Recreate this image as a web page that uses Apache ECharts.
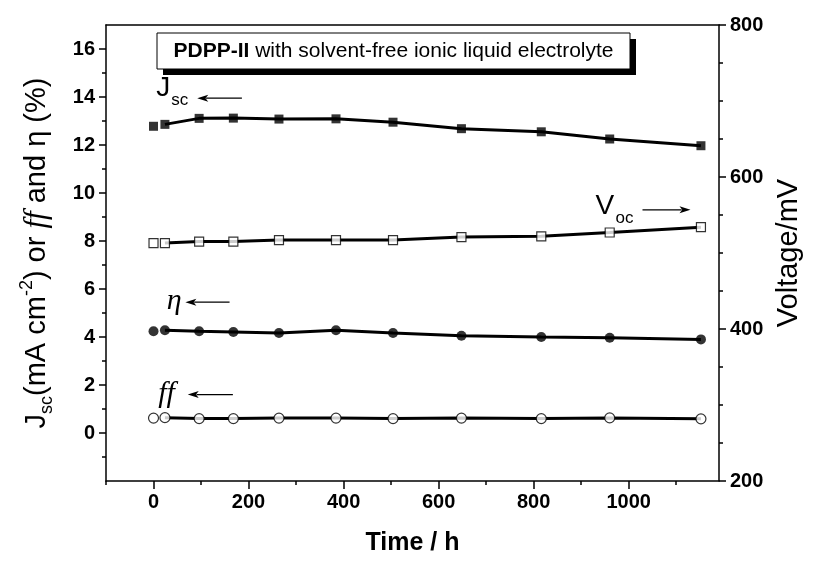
<!DOCTYPE html>
<html>
<head>
<meta charset="utf-8">
<script src="https://cdn.jsdelivr.net/npm/echarts@6/dist/echarts.min.js"></script>
<style>
html,body{margin:0;padding:0;background:#fff;}
#chart{width:815px;height:561px;}
</style>
</head>
<body>
<div id="chart"></div>
<script>
// ---- data ----
const timeH = [0, 24, 96, 168, 264, 384, 504, 648, 816, 960, 1152];
const jscValues = [12.78, 12.86, 13.11, 13.12, 13.08, 13.09, 12.95, 12.68, 12.55, 12.25, 11.97];
const vocValues = [513, 513, 515, 515, 517, 517, 517, 521, 522, 527, 534];   // mV, right axis
const etaValues = [4.24, 4.28, 4.24, 4.21, 4.17, 4.28, 4.17, 4.05, 4.00, 3.97, 3.90];
const ffValues  = [0.62, 0.64, 0.60, 0.60, 0.62, 0.62, 0.60, 0.62, 0.60, 0.63, 0.59];

const xMajorTicks = [0, 200, 400, 600, 800, 1000];
const xMinorTicks = [-100, 100, 300, 500, 700, 900, 1100];
const leftMajorTicks = [0, 2, 4, 6, 8, 10, 12, 14, 16];
const leftMinorTicks = [-1, 1, 3, 5, 7, 9, 11, 13, 15];
const rightMajorTicks = [200, 400, 600, 800];
const rightMinorTicks = [250, 300, 350, 450, 500, 550, 650, 700, 750];

const boxTitleBold = 'PDPP-II';
const boxTitleRest = ' with solvent-free ionic liquid electrolyte';

// ---- helpers ----
const SANS = '"Liberation Sans", Arial, sans-serif';
const SERIF = '"Liberation Serif", "Times New Roman", serif';
const pairs = (ys) => timeH.map((t, i) => [t, ys[i]]);
const plain = (v) => String(v);

const chart = echarts.init(document.getElementById('chart'), null, {renderer: 'canvas'});

const axisLineStyle = {color: '#000', width: 1.5};
const tickLabelStyle = {color: '#000', fontSize: 20, fontWeight: 'bold', fontFamily: SANS, formatter: plain};

function lineSeries(ys, yIdx) {
  return {
    type: 'line', xAxisIndex: 0, yAxisIndex: yIdx,
    data: pairs(ys).slice(1), showSymbol: false, symbol: 'none',
    lineStyle: {color: '#000', width: 3}, silent: true, z: 2, animation: false
  };
}
function pointSeries(ys, yIdx, symbol, filled, size) {
  return {
    type: 'scatter', xAxisIndex: 0, yAxisIndex: yIdx,
    data: pairs(ys), symbol: symbol, symbolSize: size,
    itemStyle: filled ? {color: '#000', borderColor: '#000', borderWidth: 0}
                      : {color: '#fff', borderColor: '#000', borderWidth: 1.2},
    silent: true, z: 3, animation: false
  };
}

const option = {
  animation: false,
  backgroundColor: '#fff',
  grid: {left: 106, right: 96, top: 25, bottom: 80, containLabel: false},
  xAxis: [
    {
      type: 'value', position: 'bottom', min: -100, max: 1190,
      axisLine: {show: true, onZero: false, lineStyle: axisLineStyle},
      axisTick: {show: true, customValues: xMajorTicks, length: 8, lineStyle: axisLineStyle},
      axisLabel: {show: true, customValues: xMajorTicks, margin: 11, ...tickLabelStyle},
      splitLine: {show: false},
      name: 'Time / h', nameLocation: 'middle', nameGap: 50,
      nameTextStyle: {color: '#000', fontSize: 25, fontWeight: 'bold', fontFamily: SANS}
    },
    {
      type: 'value', position: 'bottom', min: -100, max: 1190,
      axisLine: {show: false, onZero: false},
      axisTick: {show: true, customValues: xMinorTicks, length: 4, lineStyle: axisLineStyle},
      axisLabel: {show: false}, splitLine: {show: false}
    },
    {
      type: 'value', position: 'top', min: -100, max: 1190,
      axisLine: {show: true, onZero: false, lineStyle: axisLineStyle},
      axisTick: {show: false}, axisLabel: {show: false}, splitLine: {show: false}
    }
  ],
  yAxis: [
    {
      type: 'value', position: 'left', min: -2, max: 17,
      axisLine: {show: true, onZero: false, lineStyle: axisLineStyle},
      axisTick: {show: true, customValues: leftMajorTicks, length: 7, lineStyle: axisLineStyle},
      axisLabel: {show: true, customValues: leftMajorTicks, margin: 11, ...tickLabelStyle},
      splitLine: {show: false},
      name: '{n|J}{sub|sc}{n|(mA cm}{sup|-2}{n|) or }{it|ff}{n| and η (%)}',
      nameLocation: 'middle', nameGap: 50, nameRotate: 90,
      nameTextStyle: {
        color: '#000', fontSize: 29, fontFamily: SANS,
        rich: {
          n: {fontSize: 29, fontFamily: SANS, color: '#000', lineHeight: 38, verticalAlign: 'middle'},
          sub: {fontSize: 18, fontFamily: SANS, color: '#000', lineHeight: 18, verticalAlign: 'bottom'},
          sup: {fontSize: 18, fontFamily: SANS, color: '#000', lineHeight: 18, verticalAlign: 'top'},
          it: {fontSize: 31, fontFamily: SERIF, fontStyle: 'italic', color: '#000', lineHeight: 38, verticalAlign: 'middle'}
        }
      }
    },
    {
      type: 'value', position: 'right', min: 200, max: 800,
      axisLine: {show: true, onZero: false, lineStyle: axisLineStyle},
      axisTick: {show: true, customValues: rightMajorTicks, length: 7, lineStyle: axisLineStyle},
      axisLabel: {show: true, customValues: rightMajorTicks, margin: 11, ...tickLabelStyle},
      splitLine: {show: false},
      name: 'Voltage/mV', nameLocation: 'middle', nameGap: 50, nameRotate: 90,
      nameTextStyle: {color: '#000', fontSize: 29, fontFamily: SANS}
    },
    {
      type: 'value', position: 'left', min: -2, max: 17,
      axisLine: {show: false, onZero: false},
      axisTick: {show: true, customValues: leftMinorTicks, length: 4, lineStyle: axisLineStyle},
      axisLabel: {show: false}, splitLine: {show: false}
    },
    {
      type: 'value', position: 'right', min: 200, max: 800,
      axisLine: {show: false, onZero: false},
      axisTick: {show: true, customValues: rightMinorTicks, length: 4, lineStyle: axisLineStyle},
      axisLabel: {show: false}, splitLine: {show: false}
    }
  ],
  series: [
    lineSeries(jscValues, 0), pointSeries(jscValues, 0, 'rect', true, 9),
    lineSeries(vocValues, 1), pointSeries(vocValues, 1, 'rect', false, 9),
    lineSeries(etaValues, 0), pointSeries(etaValues, 0, 'circle', true, 10),
    lineSeries(ffValues, 0),  pointSeries(ffValues, 0, 'circle', false, 10)
  ]
};
chart.setOption(option);

// ---- annotations, positioned through the chart's own coordinate system ----
function px(t, v) { return chart.convertToPixel({xAxisIndex: 0, yAxisIndex: 0}, [t, v]); }
function arrow(tFrom, tTo, v) {
  const a = px(tFrom, v), b = px(tTo, v);
  const dir = b[0] > a[0] ? 1 : -1;
  const hl = 11, hw = 3.5;
  return [
    {type: 'line', shape: {x1: a[0], y1: a[1], x2: b[0] - dir * hl * 0.8, y2: b[1]},
     style: {stroke: '#000', lineWidth: 1.3}, silent: true, z: 10},
    {type: 'polygon', shape: {points: [[b[0], b[1]], [b[0] - dir * hl, b[1] - hw], [b[0] - dir * hl * 0.75, b[1]], [b[0] - dir * hl, b[1] + hw]]},
     style: {fill: '#000'}, silent: true, z: 10}
  ];
}
function label(t, v, text, font, dx, dy) {
  const p = px(t, v);
  return {type: 'text', x: p[0] + (dx || 0), y: p[1] + (dy || 0), silent: true, z: 10,
          style: {text: text, font: font, fill: '#000', align: 'left', verticalAlign: 'middle'}};
}

const graphics = [];
// title box
graphics.push({type: 'rect', shape: {x: 163, y: 39, width: 473, height: 36}, style: {fill: '#000'}, silent: true, z: 20});
graphics.push({type: 'rect', shape: {x: 157, y: 33, width: 473, height: 36}, style: {fill: '#fff', stroke: '#000', lineWidth: 1}, silent: true, z: 21});
graphics.push({type: 'text', x: 393.5, y: 51, silent: true, z: 22,
  style: {text: '{b|' + boxTitleBold + '}{r|' + boxTitleRest + '}', align: 'center', verticalAlign: 'middle',
    rich: {b: {fontSize: 21, fontWeight: 'bold', fontFamily: SANS, fill: '#000'},
           r: {fontSize: 21, fontFamily: SANS, fill: '#000'}}}});

// J_sc
graphics.push(label(6, 14.35, 'J', '28px ' + SANS, 0, 0));
graphics.push(label(6, 14.35, 'sc', '17px ' + SANS, 15, 12));
graphics.push(...arrow(186, 92, 13.95));
// V_oc
graphics.push(label(930, 9.45, 'V', '28px ' + SANS, 0, 0));
graphics.push(label(930, 9.45, 'oc', '17px ' + SANS, 20, 12));
graphics.push(...arrow(1029, 1130, 9.3));
// eta
graphics.push(label(28, 5.5, 'η', 'italic 30px ' + SERIF, 0, 0));
graphics.push(...arrow(160, 67, 5.45));
// ff
graphics.push(label(10, 1.6, 'ff', 'italic 30px ' + SERIF, 0, 0));
graphics.push(...arrow(167, 72, 1.6));

chart.setOption({graphic: {elements: graphics}});
</script>
</body>
</html>
